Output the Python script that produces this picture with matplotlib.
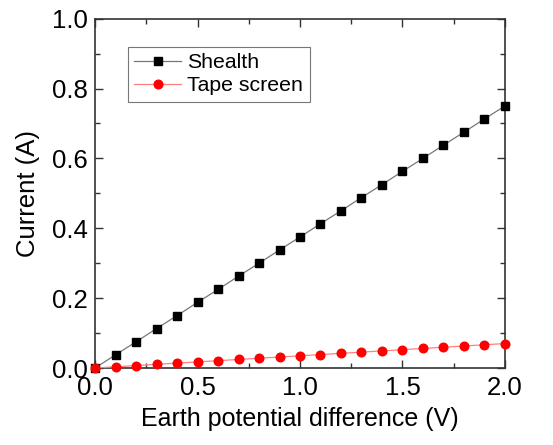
import matplotlib
matplotlib.use("Agg")
import matplotlib.pyplot as plt
from matplotlib.ticker import MultipleLocator

plt.rcParams['font.family'] = ['Liberation Sans', 'DejaVu Sans']

voltage = [0.0, 0.1, 0.2, 0.3, 0.4, 0.5, 0.6, 0.7, 0.8, 0.9, 1.0,
           1.1, 1.2, 1.3, 1.4, 1.5, 1.6, 1.7, 1.8, 1.9, 2.0]
shealth = [0.0, 0.038, 0.075, 0.113, 0.150, 0.188, 0.225, 0.263, 0.300, 0.338, 0.375,
           0.413, 0.450, 0.488, 0.525, 0.563, 0.600, 0.638, 0.675, 0.713, 0.750]
tape = [0.0, 0.0035, 0.007, 0.0105, 0.014, 0.0175, 0.021, 0.0245, 0.028, 0.0315, 0.035,
        0.0385, 0.042, 0.0455, 0.049, 0.0525, 0.056, 0.0595, 0.063, 0.0665, 0.070]

fig = plt.figure(figsize=(5.53, 4.45), dpi=100)
ax = fig.add_axes([0.172, 0.173, 0.741, 0.785])

ax.plot(voltage, shealth, color='#777777', lw=0.9, marker='s', ms=5.2,
        mfc='black', mec='black', label='Shealth', clip_on=False, zorder=3)
ax.plot(voltage, tape, color='#ff8080', lw=0.9, marker='o', ms=6.2,
        mfc='red', mec='red', label='Tape screen', clip_on=False, zorder=3)

ax.set_xlim(0, 2.0)
ax.set_ylim(0, 1.0)
ax.xaxis.set_major_locator(MultipleLocator(0.5))
ax.xaxis.set_minor_locator(MultipleLocator(0.25))
ax.yaxis.set_major_locator(MultipleLocator(0.2))
ax.yaxis.set_minor_locator(MultipleLocator(0.1))
ax.xaxis.set_major_formatter(matplotlib.ticker.FormatStrFormatter('%.1f'))
ax.yaxis.set_major_formatter(matplotlib.ticker.FormatStrFormatter('%.1f'))
ax.tick_params(which='both', direction='in', top=True, right=True, labelsize=18.5,
               color='#333333', width=1)
ax.tick_params(which='major', length=6)
ax.tick_params(which='minor', length=3.5)
ax.tick_params(axis='x', pad=6)
ax.tick_params(axis='y', pad=5)
for s in ax.spines.values():
    s.set_color('#333333')
    s.set_linewidth(1.2)

ax.set_xlabel('Earth potential difference (V)', fontsize=18, labelpad=5)
ax.set_ylabel('Current (A)', fontsize=18.5, labelpad=9)

leg = ax.legend(loc='upper left', bbox_to_anchor=(0.08, 0.92), fontsize=15.3,
                frameon=True, fancybox=False, edgecolor='#555555',
                handlelength=2.2, borderpad=0.3, labelspacing=0.2,
                handletextpad=0.3, borderaxespad=0)
leg.get_frame().set_linewidth(0.8)

fig.savefig('out.png', dpi=100)
